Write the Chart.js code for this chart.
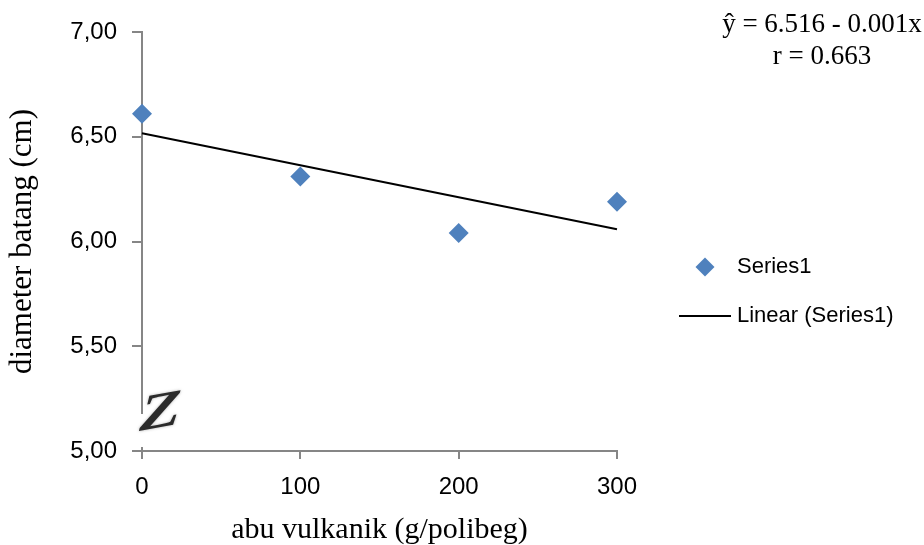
<!DOCTYPE html>
<html>
<head>
<meta charset="utf-8">
<script src="https://cdn.jsdelivr.net/npm/chart.js@4/dist/chart.umd.min.js"></script>
<style>
html, body { margin: 0; padding: 0; background: #fff; }
#wrap { width: 924px; height: 545px; }
</style>
</head>
<body>
<div id="wrap"><canvas id="myChart"></canvas></div>
<script>
var doses = [0, 100, 200, 300];
var diameter = [6.61, 6.31, 6.04, 6.19];
var xTicks = [0, 100, 200, 300];
var yTicks = [5.00, 5.50, 6.00, 6.50, 7.00];
var equation = ['ŷ = 6.516 - 0.001x', 'r = 0.663'];

var axisGrey = '#868686';
var blue = '#4F81BD';

// least squares trend line from the points
var n = doses.length, mx = 0, my = 0, sxy = 0, sxx = 0;
for (var i = 0; i < n; i++) { mx += doses[i] / n; my += diameter[i] / n; }
for (var i = 0; i < n; i++) {
  sxy += (doses[i] - mx) * (diameter[i] - my);
  sxx += (doses[i] - mx) * (doses[i] - mx);
}
var slope = sxy / sxx, icpt = my - slope * mx;
var trend = [doses[0], doses[n - 1]].map(function (x) { return { x: x, y: icpt + slope * x }; });

var points = doses.map(function (x, i) { return { x: x, y: diameter[i] }; });

var extras = {
  id: 'extras',
  afterDraw: function (chart) {
    var c = chart.ctx;
    c.save();
    // axis break
    c.fillStyle = '#fff';
    c.fillRect(137, 414, 10, 33);
    c.translate(160, 414);
    c.rotate(-0.18);
    c.transform(1.25, 0, -0.45, 1, 0, 0);
    c.font = 'bold 50px "Liberation Serif"';
    c.textAlign = 'center';
    c.textBaseline = 'middle';
    c.shadowColor = 'rgba(120,120,120,0.6)';
    c.shadowBlur = 3;
    c.fillStyle = '#2a2a2a';
    c.fillText('Z', 0, 0);
    c.restore();

    // legend
    c.save();
    var ds = chart.data.datasets;
    c.fillStyle = blue;
    c.beginPath();
    c.moveTo(705, 257.5); c.lineTo(714.5, 267); c.lineTo(705, 276.5); c.lineTo(695.5, 267);
    c.closePath(); c.fill();
    c.strokeStyle = '#000'; c.lineWidth = 2;
    c.beginPath(); c.moveTo(679, 316); c.lineTo(731, 316); c.stroke();
    c.fillStyle = '#000';
    c.font = '22px "Liberation Sans"';
    c.textAlign = 'left'; c.textBaseline = 'middle';
    c.fillText(ds[0].label, 737, 267);
    c.fillText(ds[1].label, 737, 316);

    // equation
    c.font = '27px "Liberation Serif"';
    c.textAlign = 'center';
    c.fillText(equation[0], 822, 25);
    c.fillText(equation[1], 822, 57);
    c.restore();
  }
};

var ctx = document.getElementById('myChart');
var myChart = new Chart(ctx, {
  type: 'scatter',
  data: {
    datasets: [{
      label: 'Series1',
      data: points,
      pointStyle: 'rectRot',
      pointRadius: 10,
      pointHoverRadius: 10,
      backgroundColor: blue,
      borderColor: blue,
      borderWidth: 0,
      clip: false,
      order: 1
    }, {
      label: 'Linear (Series1)',
      type: 'line',
      data: trend,
      borderColor: '#000',
      borderWidth: 2,
      pointRadius: 0,
      fill: false,
      clip: false,
      order: 2
    }]
  },
  options: {
    responsive: true,
    maintainAspectRatio: false,
    animation: false,
    layout: { padding: { left: 0, right: 307, top: 32, bottom: 0 } },
    plugins: { legend: { display: false }, tooltip: { enabled: false } },
    scales: {
      x: {
        type: 'linear', min: 0, max: 300,
        afterBuildTicks: function (s) { s.ticks = xTicks.map(function (v) { return { value: v }; }); },
        afterFit: function (s) { s.height = 94; },
        ticks: { color: '#000', padding: 14, font: { family: 'Liberation Sans', size: 24 } },
        grid: { drawOnChartArea: false, drawTicks: true, tickLength: 8, color: axisGrey, lineWidth: 2 },
        border: { color: axisGrey, width: 2 },
        title: { display: true, text: 'abu vulkanik (g/polibeg)', color: '#000', padding: 0,
                 font: { family: 'Liberation Serif', size: 30, lineHeight: 1.0 } }
      },
      y: {
        min: 5, max: 7,
        afterBuildTicks: function (s) { s.ticks = yTicks.map(function (v) { return { value: v }; }); },
        afterFit: function (s) { s.width = 142; },
        ticks: { color: '#000', padding: 15, font: { family: 'Liberation Sans', size: 24 },
                 callback: function (v) { return v.toFixed(2).replace('.', ','); } },
        grid: { drawOnChartArea: false, drawTicks: true, tickLength: 10, color: axisGrey, lineWidth: 2 },
        border: { color: axisGrey, width: 2 },
        title: { display: true, text: 'diameter batang (cm)', color: '#000', padding: { top: 4, bottom: 0 },
                 font: { family: 'Liberation Serif', size: 31, lineHeight: 1.2 } }
      }
    }
  },
  plugins: [extras]
});
</script>
</body>
</html>
